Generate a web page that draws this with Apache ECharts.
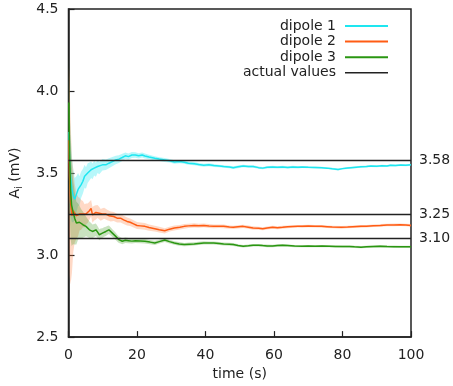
<!DOCTYPE html>
<html>
<head>
<meta charset="utf-8">
<script src="https://cdn.jsdelivr.net/npm/echarts@6/dist/echarts.min.js"></script>
<style>html,body{margin:0;padding:0;background:#fff}#c{width:453px;height:386px}</style>
</head>
<body>
<div id="c"></div>
<script>
// [time (s), mean A_i (mV), half-width of shaded band]
var dipole1 = [
[0.1,3.75,0.35],[0.3,3.58,0.3],[0.6,3.48,0.25],[1.0,3.40,0.2],[1.4,3.36,0.16],[1.8,3.34,0.13],
[2.3,3.37,0.11],[2.8,3.40,0.1],[3.2,3.39,0.09],[3.7,3.43,0.08],[4.2,3.45,0.075],[4.7,3.48,0.07],
[5.1,3.47,0.065],[5.6,3.50,0.06],[6.1,3.51,0.055],[6.6,3.52,0.05],[7.0,3.51,0.048],[7.5,3.53,0.045],
[8.0,3.52,0.043],[8.5,3.54,0.04],[9.0,3.53,0.038],[9.9,3.55,0.035],[10.9,3.55,0.032],[11.8,3.56,0.03],
[12.8,3.57,0.028],[13.8,3.58,0.026],[14.7,3.585,0.024],[15.7,3.595,0.022],[16.6,3.605,0.02],[17.5,3.60,0.019],
[18.5,3.61,0.018],[19.5,3.61,0.017],[20.5,3.605,0.016],[21.5,3.61,0.015],[22.3,3.604,0.015],[23.5,3.598,0.014],
[25.2,3.59,0.013],[26.5,3.585,0.012],[28.1,3.58,0.012],[29.5,3.575,0.011],[30.9,3.567,0.011],[32.5,3.57,0.01],
[33.8,3.566,0.01],[35.0,3.56,0.01],[36.7,3.557,0.01],[38.0,3.552,0.009],[39.5,3.547,0.009],[41,3.55,0.009],
[42.4,3.546,0.009],[44,3.543,0.008],[45.3,3.54,0.008],[47,3.537,0.008],[48.1,3.533,0.008],[49.5,3.538,0.008],
[51,3.543,0.008],[52.5,3.54,0.008],[53.9,3.54,0.007],[55.5,3.533,0.007],[56.7,3.53,0.007],[58,3.535,0.007],
[59.6,3.537,0.007],[61,3.535,0.007],[62.5,3.537,0.007],[64,3.534,0.007],[65.5,3.537,0.007],[67,3.535,0.007],
[68.2,3.537,0.006],[70,3.535,0.006],[72,3.534,0.006],[73.9,3.533,0.006],[75.5,3.53,0.006],[77,3.526,0.006],
[78.7,3.522,0.006],[80,3.527,0.006],[81.5,3.531,0.006],[82.5,3.533,0.006],[84,3.536,0.006],[85.4,3.538,0.006],
[87,3.54,0.006],[88.3,3.543,0.006],[90,3.542,0.006],[91.5,3.545,0.006],[93,3.543,0.006],[94,3.547,0.006],
[95.5,3.546,0.006],[97,3.549,0.006],[98.5,3.548,0.006],[100,3.551,0.006]
];
var dipole2 = [
[0.1,3.70,0.45],[0.3,3.48,0.6],[0.6,3.32,0.5],[1.0,3.24,0.35],[1.4,3.27,0.25],[1.8,3.255,0.18],
[2.3,3.24,0.14],[2.8,3.235,0.12],[3.2,3.25,0.1],[3.7,3.245,0.09],[4.2,3.25,0.08],[4.7,3.24,0.07],
[5.1,3.25,0.065],[5.6,3.255,0.06],[6.1,3.27,0.055],[6.6,3.285,0.05],[7.0,3.245,0.048],[7.5,3.255,0.045],
[8.0,3.26,0.043],[8.5,3.266,0.04],[9.0,3.255,0.038],[9.4,3.245,0.036],[9.9,3.25,0.035],[10.4,3.255,0.034],
[10.9,3.25,0.033],[11.3,3.245,0.032],[11.8,3.24,0.031],[12.3,3.235,0.03],[13.2,3.235,0.028],[14.2,3.225,0.027],
[15.2,3.225,0.026],[16.1,3.215,0.025],[17.1,3.205,0.024],[18,3.2,0.023],[19,3.19,0.022],[20,3.18,0.021],
[21,3.178,0.02],[22.3,3.175,0.02],[23.5,3.168,0.019],[25.2,3.161,0.018],[26.5,3.155,0.017],[28.1,3.148,0.016],
[29.5,3.158,0.015],[30.9,3.165,0.015],[32.5,3.17,0.014],[33.8,3.175,0.014],[35,3.178,0.013],[36.7,3.181,0.013],
[38,3.179,0.012],[39.5,3.181,0.012],[41,3.177,0.012],[42.4,3.175,0.011],[44,3.176,0.011],[45.3,3.175,0.011],
[47,3.171,0.01],[48.1,3.169,0.01],[49.5,3.172,0.01],[51,3.175,0.01],[52.5,3.17,0.01],[53.9,3.165,0.01],
[55.5,3.163,0.009],[56.7,3.161,0.009],[58,3.165,0.009],[59.6,3.169,0.009],[61,3.167,0.009],[62.5,3.169,0.009],
[64,3.172,0.009],[65.5,3.174,0.008],[67,3.176,0.008],[68.2,3.175,0.008],[70,3.177,0.008],[72,3.176,0.008],
[73.9,3.175,0.008],[75.5,3.173,0.008],[77,3.171,0.008],[79.7,3.169,0.008],[81.5,3.171,0.008],[83,3.173,0.008],
[85.4,3.175,0.008],[87,3.176,0.008],[89,3.179,0.008],[91.1,3.181,0.008],[93,3.183,0.008],[95,3.184,0.008],
[96.8,3.185,0.008],[98.5,3.183,0.008],[100,3.181,0.008]
];
var dipole3 = [
[0.1,3.93,0.3],[0.3,3.62,0.35],[0.6,3.40,0.3],[0.9,3.305,0.25],[1.3,3.266,0.2],[1.8,3.225,0.16],
[2.3,3.195,0.13],[2.8,3.205,0.11],[3.2,3.2,0.1],[3.7,3.19,0.09],[4.2,3.185,0.08],[4.7,3.18,0.07],
[5.1,3.175,0.06],[5.6,3.165,0.055],[6.1,3.154,0.05],[6.6,3.15,0.045],[7.0,3.144,0.042],[7.5,3.15,0.04],
[8.0,3.154,0.038],[8.5,3.14,0.036],[9.0,3.124,0.034],[9.4,3.13,0.032],[9.9,3.134,0.03],[10.4,3.14,0.029],
[10.9,3.144,0.028],[11.3,3.15,0.027],[11.8,3.154,0.026],[12.3,3.145,0.025],[12.8,3.134,0.024],[13.3,3.124,0.023],
[13.8,3.114,0.022],[14.2,3.104,0.021],[14.7,3.094,0.02],[15.2,3.09,0.019],[15.7,3.084,0.018],[16.6,3.09,0.017],
[17.5,3.088,0.016],[18.5,3.085,0.015],[19.5,3.088,0.015],[21,3.086,0.014],[22.3,3.084,0.014],[23.8,3.079,0.013],
[25.2,3.074,0.013],[26.5,3.082,0.012],[28.1,3.092,0.012],[29.5,3.082,0.011],[30.9,3.074,0.011],[32.3,3.068,0.011],
[33.8,3.064,0.01],[35.2,3.066,0.01],[36.7,3.068,0.01],[38,3.071,0.01],[39.5,3.074,0.01],[41,3.073,0.009],
[42.4,3.074,0.009],[44,3.071,0.009],[45.3,3.068,0.009],[47,3.066,0.009],[48.1,3.064,0.009],[49.5,3.058,0.008],
[51,3.054,0.008],[52.5,3.057,0.008],[53.9,3.06,0.008],[55.5,3.06,0.008],[56.7,3.058,0.008],[58,3.056,0.008],
[59.6,3.055,0.008],[61,3.058,0.008],[62.5,3.06,0.008],[64,3.058,0.007],[66,3.055,0.007],[68.2,3.054,0.007],
[70,3.055,0.007],[72,3.054,0.007],[74,3.055,0.007],[76,3.054,0.007],[78,3.053,0.007],[80,3.052,0.007],
[82,3.052,0.007],[83.5,3.05,0.007],[85.4,3.048,0.007],[87,3.05,0.007],[89,3.052,0.007],[91,3.054,0.007],
[93,3.052,0.007],[95,3.051,0.007],[97,3.05,0.007],[98.5,3.05,0.007],[100,3.05,0.007]
];
var actualValues = [3.58, 3.25, 3.10];
var seriesNames = ['dipole 1', 'dipole 2', 'dipole 3'];
var xTicks = [0, 20, 40, 60, 80, 100];
var yTicks = [2.5, 3.0, 3.5, 4.0, 4.5];

var colors = ['#1ee6f0', '#ff5c14', '#2a9612'];
var bandColors = ['rgba(30,230,240,0.32)', 'rgba(255,120,50,0.28)', 'rgba(60,150,30,0.28)'];
var FONT = 'DejaVu Sans';
var dataSets = [dipole1, dipole2, dipole3];

var series = [];
dataSets.forEach(function (d, i) {
  var bandData = d.map(function (p) { return [p[0], p[1] - p[2], p[1] + p[2]]; });
  series.push({
    type: 'custom', silent: true, z: 1,
    encode: { x: 0, y: [1, 2] },
    data: bandData,
    renderItem: function (params, api) {
      if (params.dataIndexInside !== 0) return;
      var pts = [];
      for (var k = 0; k < bandData.length; k++) pts.push(api.coord([bandData[k][0], bandData[k][2]]));
      for (var k2 = bandData.length - 1; k2 >= 0; k2--) pts.push(api.coord([bandData[k2][0], bandData[k2][1]]));
      return { type: 'polygon', shape: { points: pts }, style: { fill: bandColors[i], stroke: null } };
    }
  });
});
dataSets.forEach(function (d, i) {
  series.push({
    name: seriesNames[i], type: 'line', symbol: 'none', z: 3,
    lineStyle: { color: colors[i], width: 1.5 }, itemStyle: { color: colors[i] },
    data: d.map(function (p) { return [p[0], p[1]]; })
  });
});
series.push({
  name: 'actual values', type: 'line', symbol: 'none', z: 4,
  lineStyle: { color: '#222', width: 1.3 }, itemStyle: { color: '#222' },
  data: [],
  markLine: {
    silent: true, symbol: ['none', 'none'], animation: false,
    lineStyle: { color: '#222', width: 1.3, type: 'solid' },
    label: { position: 'end', distance: 8, color: '#222', fontSize: 14, fontFamily: FONT,
      formatter: function (p) { return p.value.toFixed(2); } },
    data: actualValues.map(function (v) { return { yAxis: v }; })
  }
});

var lineIcon = 'path://M0,0H43V2H0Z';
var chart = echarts.init(document.getElementById('c'), null, { renderer: 'canvas' });
chart.setOption({
  animation: false,
  backgroundColor: '#fff',
  grid: { left: 62, right: 42, top: 9, bottom: 46, show: true, borderColor: '#222', borderWidth: 1.5, backgroundColor: 'transparent' },
  legend: {
    data: [
      { name: 'dipole 1', icon: lineIcon },
      { name: 'dipole 2', icon: lineIcon },
      { name: 'dipole 3', icon: lineIcon },
      { name: 'actual values', icon: 'path://M0,0H43V1.4H0Z' }
    ],
    orient: 'vertical', align: 'right', right: 60, top: 14,
    itemWidth: 43, itemHeight: 14, itemGap: 1.6,
    textStyle: { fontSize: 14, fontFamily: FONT, color: '#222', lineHeight: 14, padding: [0, 4, 0, 0] }
  },
  xAxis: {
    type: 'value', min: xTicks[0], max: xTicks[xTicks.length - 1], interval: 20,
    name: 'time (s)', nameLocation: 'middle', nameGap: 29,
    nameTextStyle: { fontSize: 14, fontFamily: FONT, color: '#222' },
    axisLine: { lineStyle: { color: '#222', width: 1.5 } },
    axisTick: { inside: true, length: 6, lineStyle: { color: '#222', width: 1.2 } },
    axisLabel: { fontSize: 14, fontFamily: FONT, color: '#222', margin: 11 },
    splitLine: { show: false }
  },
  yAxis: {
    type: 'value', min: yTicks[0], max: yTicks[yTicks.length - 1], interval: 0.5,
    name: 'A{sub|i} (mV)', nameLocation: 'middle', nameGap: 44,
    nameTextStyle: { fontSize: 14, fontFamily: FONT, color: '#222',
      rich: { sub: { fontSize: 10, fontFamily: FONT, color: '#222', padding: [9, 0, 0, 0] } } },
    axisLine: { lineStyle: { color: '#222', width: 1.5 } },
    axisTick: { inside: true, length: 6, lineStyle: { color: '#222', width: 1.2 } },
    axisLabel: { fontSize: 14, fontFamily: FONT, color: '#222', margin: 10,
      formatter: function (v) { return v.toFixed(1); } },
    splitLine: { show: false }
  },
  series: series
});
</script>
</body>
</html>
